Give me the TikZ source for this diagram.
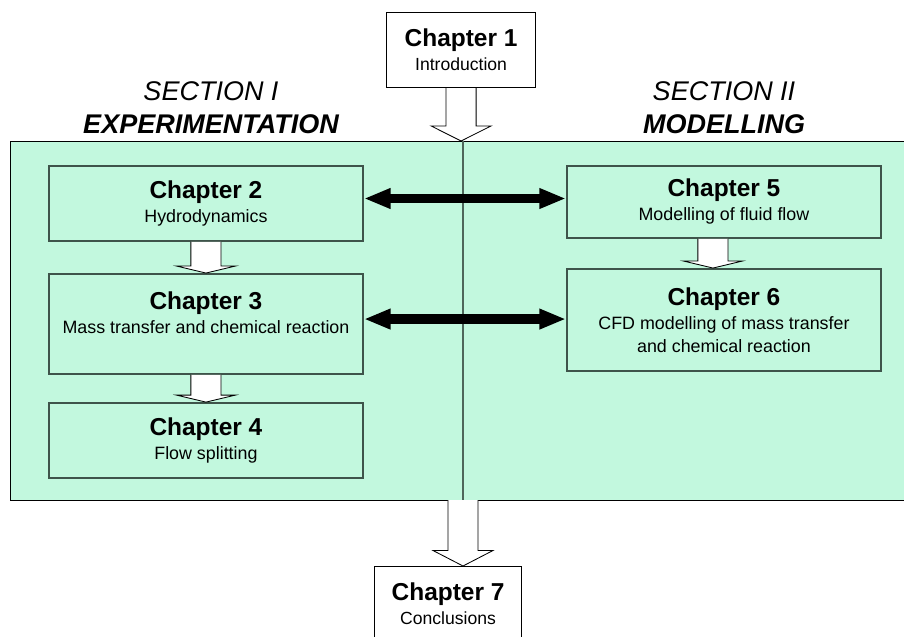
\documentclass[tikz,border=0pt]{standalone}
\usepackage{fontspec}
\setmainfont{Liberation Sans}
\definecolor{mint}{RGB}{194, 248, 222}
\definecolor{boxedge}{RGB}{62, 84, 74}
\definecolor{divline}{RGB}{78, 102, 90}
\usetikzlibrary{arrows.meta, positioning, calc}
\newcommand{\chaptitle}{\fontsize{17.4}{20}\selectfont\bfseries}
\newcommand{\sectfont}{\fontsize{19.2}{22}\selectfont\itshape}
\newcommand{\hollowdown}[5]{%
	\draw[hollow] let \p1=(#1), \p2=(#2) in
		(\x1-#3,\y1) -- (\x1-#3,\y2+#5) -- (\x1-#4,\y2+#5) -- (\x1,\y2)
		-- (\x1+#4,\y2+#5) -- (\x1+#3,\y2+#5) -- (\x1+#3,\y1);}
\tikzset{
	frame/.style={rectangle, draw=black, fill=mint, line width=0.9pt, inner sep=0pt},
	chapbox/.style={rectangle, draw=boxedge, fill=mint, line width=1.3pt, align=center, minimum width=7.85cm, inner sep=0pt, font=\fontsize{12.7}{16.4}\selectfont},
	endbox/.style={rectangle, draw=black, fill=white, line width=0.8pt, align=center, minimum width=3.7cm, minimum height=1.875cm, inner sep=0pt, font=\fontsize{12.5}{16.4}\selectfont},
	secthead/.style={align=center, font=\sectfont},
	hollow/.style={draw=black, fill=white, line width=0.6pt, line join=miter},
	twoway/.style={line width=7pt, {Triangle[length=19pt, width=13.5pt]}-{Triangle[length=19pt, width=13.5pt]}},
}

\begin{document}
\begin{tikzpicture}[x=0.025cm, y=-0.025cm]
	\useasboundingbox (0,0) rectangle (904,637);
	\clip (0,0) rectangle (904,637);
	% sections
	\node[frame, anchor=north west, minimum width=23.75cm, minimum height=8.975cm] (frame) at (10,141) {};
	\coordinate (divtop) at (463,141);
	\coordinate (divbot) at (463,500);
	\draw[divline, line width=1pt] (divtop) -- (divbot);
	\node[secthead] (sec1) at (211,91) {SECTION I};
	\node[secthead, font=\sectfont\bfseries] (exper) at (211,124) {EXPERIMENTATION};
	\node[secthead] (sec2) at (724,91) {SECTION II};
	\node[secthead, font=\sectfont\bfseries] (model) at (724,124) {MODELLING};
	% chapters
	\node[endbox, anchor=north west, minimum width=3.725cm] (ch1) at (386,12) {{\chaptitle Chapter 1}\\[0.6pt] Introduction};
	\node[chapbox, anchor=north west, minimum height=1.875cm] (ch2) at (48,165) {{\chaptitle Chapter 2}\\[0.6pt] Hydrodynamics};
	\node[chapbox, minimum height=2.5cm, below=0.78cm of ch2] (ch3) {{\chaptitle Chapter 3}\\[0.6pt] Mass transfer and chemical reaction\\ \phantom{x}};
	\node[chapbox, minimum height=1.875cm, below=0.68cm of ch3] (ch4) {{\chaptitle Chapter 4}\\[0.6pt] Flow splitting};
	\node[chapbox, anchor=north west, minimum height=1.8cm] (ch5) at (566,165) {{\chaptitle Chapter 5}\\[0.6pt] Modelling of fluid flow};
	\node[chapbox, minimum height=2.55cm, below=0.73cm of ch5] (ch6) {{\chaptitle Chapter 6}\\[0.6pt] CFD modelling of mass transfer\\ and chemical reaction};
	\node[endbox, anchor=north west, minimum width=3.675cm] (ch7) at (374,566) {{\chaptitle Chapter 7}\\[0.6pt] Conclusions};
	% links
	\hollowdown{ch1.south}{ch1.south |- frame.north}{10.7pt}{21.3pt}{10.7pt}
	\hollowdown{divbot}{divbot |- ch7.north}{10.7pt}{21.3pt}{11pt}
	\hollowdown{ch2.south}{ch2.south |- ch3.north}{10.7pt}{21pt}{5pt}
	\hollowdown{ch3.south}{ch3.south |- ch4.north}{10.7pt}{21pt}{5pt}
	\hollowdown{$(ch5.south)+(-11,0)$}{$(ch5.south |- ch6.north)+(-11,0)$}{10.7pt}{21pt}{5pt}
	\draw[twoway] ([yshift=3.5pt]ch2.east) -- ([yshift=3.5pt]ch2.east -| ch5.west);
	\draw[twoway] ([yshift=3.5pt]ch3.east) -- ([yshift=3.5pt]ch3.east -| ch6.west);
\end{tikzpicture}
\end{document}
